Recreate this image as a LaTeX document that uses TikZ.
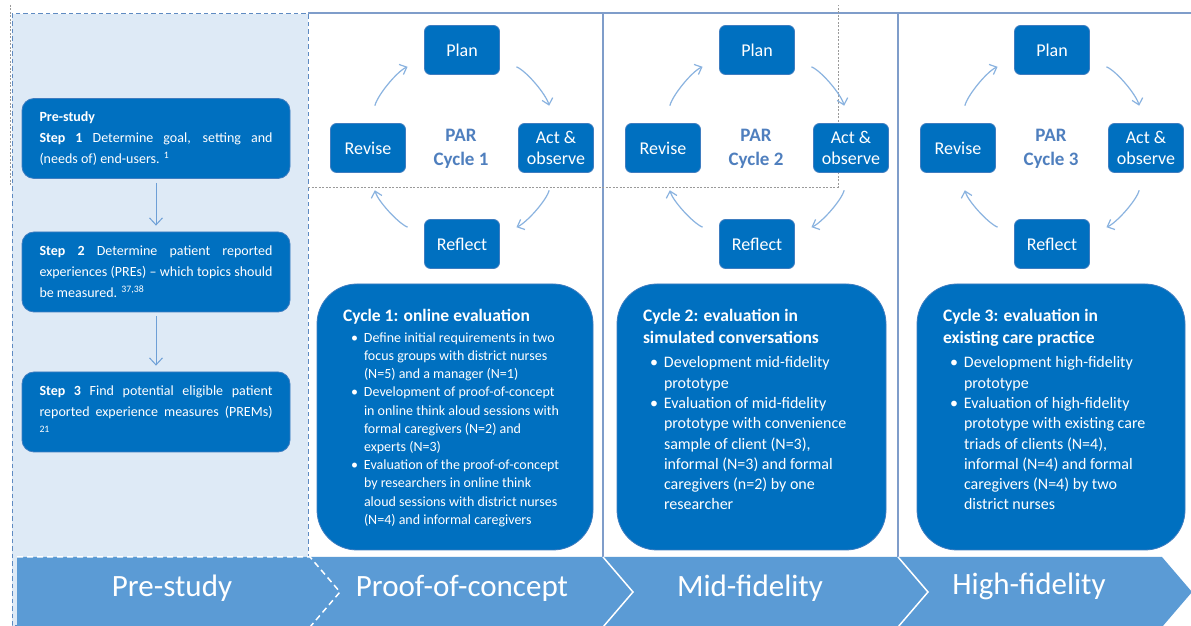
\documentclass[tikz,border=0pt]{standalone}
\usepackage{fontspec}
\setmainfont{Carlito}
\usetikzlibrary{arrows.meta,calc}
\definecolor{boxblue}{HTML}{0070C0}
\definecolor{boxedge}{HTML}{3F7DC0}
\definecolor{barblue}{HTML}{5B9BD5}
\definecolor{panelfill}{HTML}{DEEAF6}
\definecolor{paneledge}{HTML}{5F8BC2}
\definecolor{rulecol}{HTML}{7F9DCA}
\definecolor{arccol}{HTML}{8AB3E0}
\definecolor{stepar}{HTML}{6D9FD6}
\definecolor{partext}{HTML}{4F7FBE}
\definecolor{dotgray}{HTML}{9A9A9A}
\newcommand\cbitem{\par\leavevmode\llap{\textbullet\hspace{6pt}}}
\tikzset{
  stepbox/.style={draw=boxedge, fill=boxblue, rounded corners=12pt, text=white,
    text width=233pt, inner xsep=17.5pt, inner ysep=0pt, minimum height=80pt,
    align=justify, font=\fontsize{14}{21}\selectfont, line width=0.8pt},
  stepline/.style={draw=stepar, line width=1pt, -{Straight Barb[length=7pt,width=13pt]},
    shorten <=4pt, shorten >=6pt},
  cycbox/.style={draw=boxedge, fill=boxblue, rounded corners=6pt, text=white,
    minimum width=75pt, minimum height=49pt, inner sep=1pt, align=center,
    font=\fontsize{18}{21}\selectfont, line width=0.8pt},
  cycline/.style={draw=arccol, line width=1.2pt, -{Straight Barb[length=6pt,width=11pt]},
    shorten <=18pt, shorten >=18pt, looseness=0.9},
  partxt/.style={text=partext, align=center, font=\fontsize{19}{24}\selectfont\bfseries},
  descbox/.style={draw=boxedge, fill=boxblue, rounded corners=40pt, text=white,
    inner sep=0pt, minimum height=266pt, line width=0.8pt},
  barlabel/.style={text=white, font=\fontsize{31}{36}\selectfont, anchor=base},
  rulestyle/.style={draw=rulecol, line width=1.3pt},
  dotline/.style={draw=dotgray, line width=0.8pt, dash pattern=on 2pt off 1.5pt}
}
\begin{document}
\begin{tikzpicture}[x=1pt,y=1pt]
\useasboundingbox (0,0) rectangle (1191,626);
\fill[white] (0,0) rectangle (1191,626);
% grey dotted frame
\draw[dotline] (10,621) -- (10,439);
% pre-study panel
\draw[paneledge, fill=panelfill, line width=1pt, dash pattern=on 4.5pt off 3pt] (12,612) rectangle (308,0);
% rules
\draw[rulestyle] (308,613) -- (1191,613);
\draw[rulestyle] (603,613) -- (603,69);
\draw[rulestyle] (898,613) -- (898,69);
\draw[dotline] (308,439) -- (838,439) -- (838,621);
% steps
\node[stepbox] (s1) at (156,487.5) {\textbf{Pre-study}\\\textbf{Step 1} Determine goal, setting and\linebreak (needs of) end-users. \textsuperscript{1}};
\node[stepbox] (s2) at (156,354) {\textbf{Step 2} Determine patient reported\linebreak experiences (PREs) -- which topics should\linebreak be measured. \textsuperscript{37,38}};
\node[stepbox] (s3) at (156,214) {\textbf{Step 3} Find potential eligible patient\linebreak reported experience measures (PREMs)\linebreak \textsuperscript{21}};
\draw[stepline] (s1) -- (s2);
\draw[stepline] (s2) -- (s3);
% PAR cycles
\foreach \i/\dx in {1/0,2/295,3/590}{
  \node[cycbox] (plan\i) at (462+\dx,576) {Plan};
  \node[cycbox] (revise\i) at (368+\dx,478) {Revise};
  \node[cycbox] (act\i) at (556+\dx,478) {Act \&\\observe};
  \node[cycbox] (reflect\i) at (462+\dx,382) {Reflect};
  \node[partxt] (par\i) at (461+\dx,477) {PAR\\Cycle \i};
  \draw[cycline] ([xshift=2.2pt]revise\i.north) to[out=75.1,in=203.25] ([yshift=-9.7pt]plan\i.west);
  \draw[cycline] ([yshift=-9.7pt]plan\i.east) to[out=-23.25,in=104.9] ([xshift=-2.2pt]act\i.north);
  \draw[cycline] ([xshift=-2.2pt]act\i.south) to[out=-104.9,in=23.25] ([yshift=9.7pt]reflect\i.east);
  \draw[cycline] ([yshift=9.7pt]reflect\i.west) to[out=156.75,in=-75.1] ([xshift=2.2pt]revise\i.south);
}
% description boxes
\node[descbox, minimum width=276pt] (d1) at (455,209) {\parbox[c][216pt][t]{224pt}{\raggedright
{\fontsize{17.5}{22.5}\selectfont\bfseries Cycle 1: online evaluation\par}
\vspace{2.8pt}\fontsize{14}{18.2}\selectfont\leftskip=21pt
\cbitem Define initial requirements in two\\focus groups with district nurses\\(N=5) and a manager (N=1)
\cbitem Development of proof-of-concept\\in online think aloud sessions with\\formal caregivers (N=2) and\\experts (N=3)
\cbitem Evaluation of the proof-of-concept\\by researchers in online think\\aloud sessions with district nurses\\(N=4) and informal caregivers\par}};
\node[descbox, minimum width=269pt] (d2) at (751.5,209) {\parbox[c][216pt][t]{217pt}{\raggedright
{\fontsize{17.5}{22.5}\selectfont\bfseries Cycle 2: evaluation in\\simulated conversations\par}
\vspace{3.7pt}\fontsize{16}{20.3}\selectfont\leftskip=21pt
\cbitem Development mid-fidelity\\prototype
\cbitem Evaluation of mid-fidelity\\prototype with convenience\\sample of client (N=3),\\informal (N=3) and formal\\caregivers (n=2) by one\\researcher\par}};
\node[descbox, minimum width=268pt] (d3) at (1051,209) {\parbox[c][216pt][t]{216pt}{\raggedright
{\fontsize{17.5}{22.5}\selectfont\bfseries Cycle 3: evaluation in\\existing care practice\par}
\vspace{3.7pt}\fontsize{16}{20.3}\selectfont\leftskip=21pt
\cbitem Development high-fidelity\\prototype
\cbitem Evaluation of high-fidelity\\prototype with existing care\\triads of clients (N=4),\\informal (N=4) and formal\\caregivers (N=4) by two\\district nurses\par}};
% phase bar
\fill[barblue] (17,69) -- (1162,69) -- (1192,34) -- (1162,-1) -- (17,-1) -- cycle;
\draw[white, line width=1.5pt] (603,69) -- (633,34) -- (603,-1);
\draw[white, line width=1.5pt] (898,69) -- (928,34) -- (898,-1);
\draw[white, line width=1.5pt, dash pattern=on 6pt off 4pt] (17,69) -- (310,69) -- (340,34) -- (310,-1);
\node[barlabel] (ph1) at (172,29) {Pre-study};
\node[barlabel] (ph2) at (462,29) {Proof-of-concept};
\node[barlabel] (ph3) at (750,29) {Mid-fidelity};
\node[barlabel] (ph4) at (1029,31) {High-fidelity};
\end{tikzpicture}
\end{document}
